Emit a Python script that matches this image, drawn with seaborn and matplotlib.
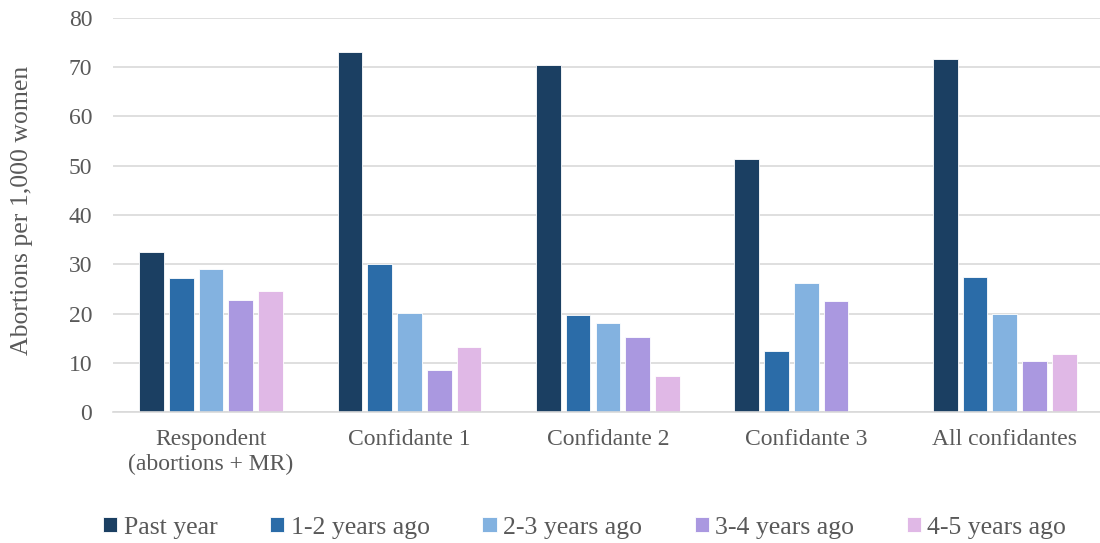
import matplotlib
matplotlib.use("Agg")
import matplotlib.pyplot as plt
import seaborn as sns
import pandas as pd

groups = ["Respondent\n(abortions + MR)", "Confidante 1", "Confidante 2",
          "Confidante 3", "All confidantes"]
periods = ["Past year", "1-2 years ago", "2-3 years ago", "3-4 years ago", "4-5 years ago"]

past_year = [32.5, 73.0, 70.4, 51.3, 71.6]
yrs_1_2 = [27.3, 30.0, 19.8, 12.4, 27.4]
yrs_2_3 = [29.1, 20.1, 18.1, 26.2, 20.0]
yrs_3_4 = [22.7, 8.6, 15.2, 22.6, 10.3]
yrs_4_5 = [24.6, 13.3, 7.3, 0.0, 11.7]

colors = ["#1B3F62", "#2B6CA8", "#83B2E0", "#AA98E0", "#E0B8E6"]

series = [past_year, yrs_1_2, yrs_2_3, yrs_3_4, yrs_4_5]
rows = []
for period, vals in zip(periods, series):
    for g, v in zip(groups, vals):
        rows.append({"group": g, "period": period, "rate": v})
df = pd.DataFrame(rows)

sns.set_theme(style="white")
plt.rcParams["font.family"] = ["Liberation Serif", "DejaVu Serif"]
text_color = "#595959"

fig, ax = plt.subplots(figsize=(11, 5.43), dpi=100)
fig.subplots_adjust(left=0.1027, right=1.0, top=0.967, bottom=0.241)

sns.barplot(data=df, x="group", y="rate", hue="period", hue_order=periods,
            order=groups, palette=colors, saturation=1, width=0.75, gap=0.17,
            edgecolor="white", linewidth=0.6, ax=ax, legend=True)

ax.set_ylim(0, 80)
ax.set_yticks(range(0, 81, 10))
ax.set_xlim(-0.494, 4.48)
ax.yaxis.grid(True, color="#D9D9D9", linewidth=1.2)
ax.set_axisbelow(True)
for side in ["left", "right", "top"]:
    ax.spines[side].set_visible(False)
ax.spines["bottom"].set_color("#D9D9D9")
ax.spines["bottom"].set_linewidth(1.2)
ax.tick_params(axis="both", length=0, labelsize=17, colors=text_color)
ax.tick_params(axis="y", pad=15)
ax.tick_params(axis="x", pad=12)
for lbl in ax.get_xticklabels():
    lbl.set_linespacing(1.25)
ax.set_xlabel("")
ax.set_ylabel("Abortions per 1,000 women", fontsize=18.5, color=text_color)
ax.yaxis.set_label_coords(-0.081, 0.513)

handles, labels = ax.get_legend_handles_labels()
ax.legend(handles, labels, loc="center", bbox_to_anchor=(0.478, -0.293),
          ncol=5, frameon=False, fontsize=18.5, labelcolor=text_color,
          handlelength=0.55, handleheight=0.55, handletextpad=0.25, columnspacing=2.05)

fig.savefig("out.png", dpi=100)
